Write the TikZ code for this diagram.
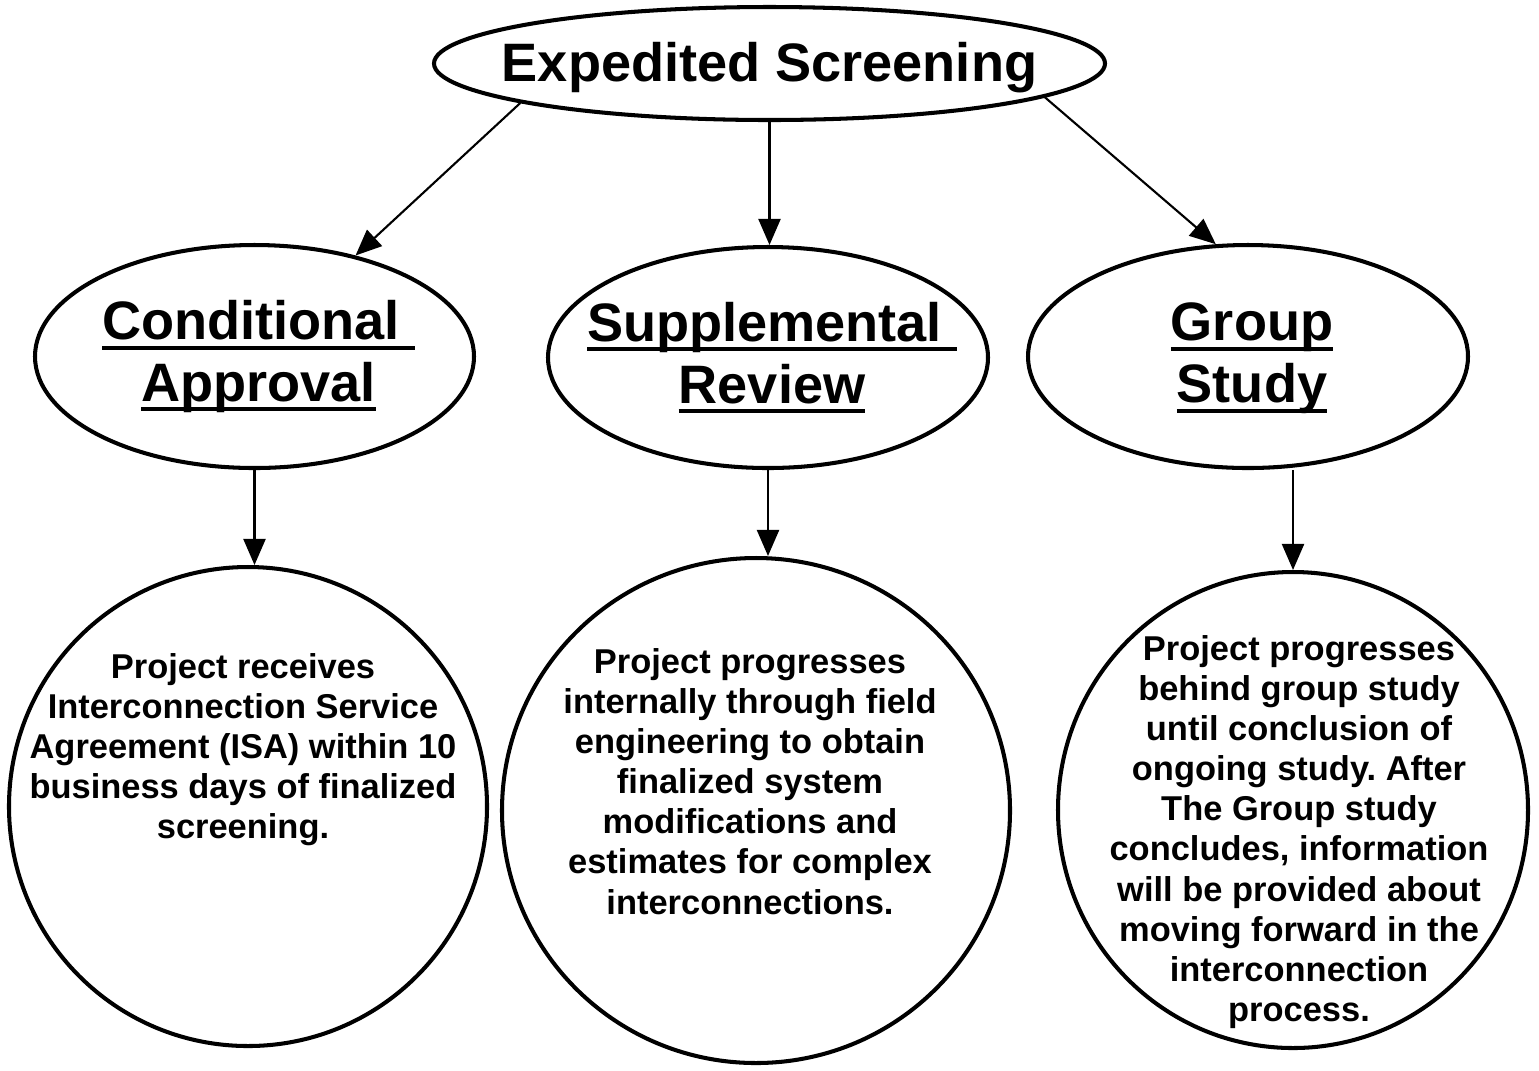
\documentclass[tikz,border=0pt]{standalone}
\usepackage{fontspec}
\setmainfont{Liberation Sans}
\frenchspacing
\usetikzlibrary{positioning,shapes.geometric,arrows.meta}
% thick underline for the headings
\newcommand{\ulhead}[1]{\leavevmode\setbox0=\hbox{#1}\rlap{\rule[-2.85pt]{\wd0}{1.14pt}}\box0}
\tikzset{
		basic/.style   = {draw, ellipse, line width=1.15pt, inner sep=0pt},
		root/.style    = {basic, minimum width=6.71cm, minimum height=1.13cm},
		branch/.style  = {basic, minimum width=4.40cm, minimum height=2.23cm},
		outcome/.style = {basic},
		headtext/.style = {inner sep=0pt, align=center,
			font=\fontsize{15.4pt}{17.6pt}\selectfont\bfseries},
		bodytext/.style = {inner sep=0pt, align=center,
			font=\fontsize{9.8pt}{11.4pt}\selectfont\bfseries}
	}

\begin{document}
\begin{tikzpicture}[
		link/.style={->, line width=0.6pt},
		>={Triangle[length=2.6mm, width=2.2mm]}]
		\useasboundingbox (0,0) rectangle (15.39,-10.70);
		% top of the chart
		\node[root] (exp) at (7.695,-0.635) {};
		\node[headtext, yshift=-0.04cm] (exptxt) at (exp) {Expedited Screening};
		% the three screening results
		\node[branch, minimum width=4.39cm] (cond) at (2.545,-3.565) {};
		\node[branch, minimum height=2.21cm] (supp) at (7.68,-3.575) {};
		\node[branch] (grp) at (12.48,-3.565) {};
		\node[headtext, xshift=0.04cm] (condtxt) at (cond) {\ulhead{Conditional\ }\\\ulhead{Approval}};
		\node[headtext, xshift=0.04cm] (supptxt) at (supp) {\ulhead{Supplemental\ }\\\ulhead{Review}};
		\node[headtext, xshift=0.04cm, yshift=-0.02cm] (grptxt) at (grp) {\ulhead{Group}\\\ulhead{Study}};
		% what happens next
		\node[outcome, minimum width=4.78cm, minimum height=4.79cm] (ca) at (2.48,-8.065) {};
		\node[outcome, minimum width=5.08cm, minimum height=5.05cm] (sr) at (7.56,-8.105) {};
		\node[outcome, minimum width=4.70cm, minimum height=4.76cm] (gs) at (12.93,-8.10) {};
		\node[bodytext, below=0.88cm of ca.north, xshift=-0.05cm] (catxt)
			{Project receives\\Interconnection Service\\Agreement (ISA) within 10\\business days of finalized\\screening.};
		\node[bodytext, below=0.92cm of sr.north, xshift=-0.06cm] (srtxt)
			{Project progresses\\internally through field\\engineering to obtain\\finalized system\\modifications and\\estimates for complex\\interconnections.};
		\node[bodytext, below=0.65cm of gs.north, xshift=0.06cm] (gstxt)
			{Project progresses\\behind group study\\until conclusion of\\ongoing study. After\\The Group study\\concludes, information\\will be provided about\\moving forward in the\\interconnection\\process.};
		% connectors
		\draw[link] (exp.189) -- (cond.45);
		\draw[link] (exp.south) -- (exp.south |- supp.north);
		\draw[link] (exp.353) -- (grp.106);
		\draw[link] (cond.south) -- (cond.south |- ca.north);
		\draw[link] (supp.south) -- (supp.south |- sr.north);
		\draw[link] (gs.north |- grp.south) -- (gs.north);
	\end{tikzpicture}
\end{document}
